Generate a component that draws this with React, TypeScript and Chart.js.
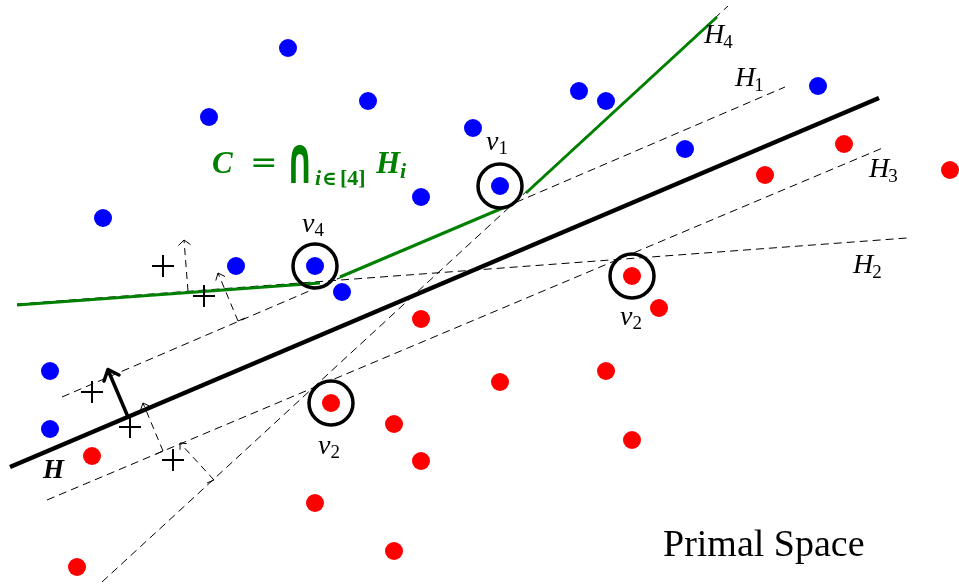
import React, { useEffect, useRef } from 'react';
import { Chart, registerables } from 'chart.js';

Chart.register(...registerables);

type P = [number, number];

// ---- data (in the figure's own coordinate system) ----
const BLUE_POINTS: P[] = [
  [288, 48], [209, 117], [368, 101], [473, 128], [579, 91], [606, 101],
  [818, 86], [685, 149], [103, 218], [421, 197], [236, 266], [315, 266],
  [342, 292], [500, 186], [50, 371], [50, 429],
];
const RED_POINTS: P[] = [
  [844, 144], [765, 175], [950, 170], [632, 276], [659, 308], [421, 319],
  [331, 403], [500, 382], [606, 371], [394, 424], [421, 461], [632, 440],
  [315, 503], [394, 551], [77, 567], [92, 456],
];
const VERTICES: P[] = [[500, 186], [315, 266], [632, 276], [331, 403]];
const LINE_H: P[] = [[10, 467], [879, 98]];
const LINE_H1: P[] = [[62, 397], [785, 87]];
const LINE_H2: P[] = [[17, 304], [907, 238]];
const LINE_H3: P[] = [[47, 500], [885, 147]];
const LINE_H4: P[] = [[102, 582], [728, 6]];
const CONE_SEGMENTS: P[][] = [
  [[17, 305], [320, 283]],
  [[340, 277], [505, 207]],
  [[526, 193], [717, 17]],
];
const NORMALS: P[][] = [
  [[188, 291], [184, 240]],
  [[238, 321], [218, 273]],
  [[163, 451], [143, 403]],
  [[214, 480], [180, 443]],
];
const NORMAL_HEADS: P[][] = [
  [[178.4, 245.5], [184, 240], [190.4, 244.5]],
  [[215.8, 280.5], [218, 273], [225, 276.5]],
  [[140.8, 409.3], [143, 403], [149.1, 405.9]],
  [[180.1, 449.7], [180, 443], [186.7, 443.6]],
];
const FOOT_TICKS: P[][] = [
  [[238, 321], [245, 318]],
  [[163, 451], [156, 454]],
  [[214, 480], [207, 483]],
];
const H_NORMAL: P[] = [[128, 417], [108, 370]];
const H_NORMAL_HEAD: P[] = [[104, 381], [108, 369.5], [119, 375]];
const PLUS_MARKS: P[] = [[163, 266], [204, 296], [92, 392], [130, 427], [173, 460]];

const HYPERPLANE_NAMES = ['H', 'H', 'H', 'H'];
const HYPERPLANE_SUBS = ['4', '1', '3', '2'];
const HYPERPLANE_ANCHORS: P[] = [[704, 43], [735, 86], [869, 177], [853, 273]];
const VERTEX_NAMES = ['v', 'v', 'v', 'v'];
const VERTEX_SUBS = ['1', '4', '2', '2'];
const VERTEX_ANCHORS: P[] = [[486, 150], [302, 232], [620, 325], [318, 454]];
const SEPARATOR_NAME = 'H';
const SEPARATOR_ANCHOR: P = [43, 478];
const CONE_FORMULA = ['C', '=', '∩', 'i', '∈', '[4]', 'H', 'i'];
const CONE_ANCHOR: P = [213, 173];
const TITLE = 'Primal Space';
const TITLE_ANCHOR: P = [663, 556];

const toXY = (pts: P[]) => pts.map(([x, y]) => ({ x, y }));

const SERIF = '"Liberation Serif", "DejaVu Serif", serif';
const GREEN = 'rgb(0,128,0)';
const DASH = [8, 5];

const lineSet = (pts: P[], color: string, width: number, dash: number[] = [], order = 5) => ({
  data: toXY(pts),
  showLine: true,
  borderColor: color,
  backgroundColor: color,
  borderWidth: width,
  borderDash: dash,
  borderCapStyle: 'butt' as const,
  borderJoinStyle: 'miter' as const,
  pointRadius: 0,
  pointHoverRadius: 0,
  fill: false,
  tension: 0,
  order,
});

const textPlugin = {
  id: 'figureText',
  afterDatasetsDraw(chart: any) {
    const { ctx } = chart;
    const sx = chart.scales.x;
    const sy = chart.scales.y;
    const px = (p: P): P => [sx.getPixelForValue(p[0]), sy.getPixelForValue(p[1])];
    ctx.save();
    ctx.textAlign = 'left';
    ctx.textBaseline = 'alphabetic';
    const run = (t: string, font: string, x: number, y: number, color = '#000') => {
      ctx.font = font;
      ctx.fillStyle = color;
      ctx.fillText(t, x, y);
      return ctx.measureText(t).width;
    };
    // hyperplane labels
    HYPERPLANE_NAMES.forEach((n, i) => {
      const [x, y] = px(HYPERPLANE_ANCHORS[i]);
      const w = run(n, `italic 28px ${SERIF}`, x, y);
      run(HYPERPLANE_SUBS[i], `19px ${SERIF}`, x + w - 1, y + 5);
    });
    // vertex labels
    VERTEX_NAMES.forEach((n, i) => {
      const [x, y] = px(VERTEX_ANCHORS[i]);
      const w = run(n, `italic 28px ${SERIF}`, x, y);
      run(VERTEX_SUBS[i], `19px ${SERIF}`, x + w, y + 4);
    });
    // separating hyperplane label
    {
      const [x, y] = px(SEPARATOR_ANCHOR);
      run(SEPARATOR_NAME, `bold italic 27px ${SERIF}`, x, y);
    }
    // cone formula
    {
      const [x, y] = px(CONE_ANCHOR);
      const big = `bold italic 31px ${SERIF}`;
      const small = `bold italic 22px ${SERIF}`;
      run(CONE_FORMULA[0], big, x - 1, y, GREEN);
      ctx.save();
      ctx.translate(x + 37, y - 1);
      ctx.scale(1.1, 1);
      run(CONE_FORMULA[1], `30px "DejaVu Sans", sans-serif`, 0, 0, GREEN);
      ctx.restore();
      ctx.save();
      ctx.translate(x + 73, y + 10);
      ctx.scale(0.85, 1.64);
      run(CONE_FORMULA[2], `bold 40px "DejaVu Sans", sans-serif`, 0, 0, GREEN);
      ctx.restore();
      run(CONE_FORMULA[3], small, x + 102, y + 12, GREEN);
      run(CONE_FORMULA[4], `bold 20px "DejaVu Serif", serif`, x + 109, y + 12, GREEN);
      run(CONE_FORMULA[5], `bold 22px ${SERIF}`, x + 127, y + 12, GREEN);
      const hw = run(CONE_FORMULA[6], big, x + 163, y, GREEN);
      run(CONE_FORMULA[7], small, x + 163 + hw, y + 5, GREEN);
    }
    // title
    {
      const [x, y] = px(TITLE_ANCHOR);
      run(TITLE, `38px ${SERIF}`, x, y);
    }
    ctx.restore();
  },
};

export default function App() {
  const ref = useRef<HTMLCanvasElement | null>(null);
  useEffect(() => {
    if (!ref.current) return;
    const datasets: any[] = [
      {
        data: toXY(VERTICES),
        pointRadius: 22,
        pointHoverRadius: 22,
        pointBackgroundColor: 'rgba(0,0,0,0)',
        pointBorderColor: '#000',
        pointBorderWidth: 3.5,
        showLine: false,
        order: 0,
      },
      {
        data: toXY(BLUE_POINTS),
        pointRadius: 9,
        pointHoverRadius: 9,
        pointBackgroundColor: '#0000ff',
        pointBorderWidth: 0,
        showLine: false,
        order: 1,
      },
      {
        data: toXY(RED_POINTS),
        pointRadius: 9,
        pointHoverRadius: 9,
        pointBackgroundColor: '#ff0000',
        pointBorderWidth: 0,
        showLine: false,
        order: 1,
      },
      {
        data: toXY(PLUS_MARKS),
        pointStyle: 'cross',
        pointRadius: 11,
        pointHoverRadius: 11,
        pointBorderColor: '#000',
        pointBorderWidth: 2,
        showLine: false,
        order: 2,
      },
      lineSet(LINE_H, '#000', 4.5, [], 3),
      { ...lineSet(H_NORMAL, '#000', 3.5, [], 3), borderCapStyle: 'round' },
      { ...lineSet(H_NORMAL_HEAD, '#000', 3.5, [], 3), borderCapStyle: 'round', borderJoinStyle: 'round' },
      ...CONE_SEGMENTS.map((s) => lineSet(s, GREEN, 3, [], 4)),
      lineSet(LINE_H1, '#000', 1, DASH, 6),
      lineSet(LINE_H2, '#000', 1, DASH, 6),
      lineSet(LINE_H3, '#000', 1, DASH, 6),
      lineSet(LINE_H4, '#000', 1, DASH, 6),
      ...NORMALS.map((s) => lineSet(s, '#000', 1, [7, 5], 6)),
      ...NORMAL_HEADS.map((s) => lineSet(s, '#000', 1, [], 6)),
      ...FOOT_TICKS.map((s) => lineSet(s, '#000', 1, [], 6)),
    ];
    const chart = new Chart(ref.current, {
      type: 'scatter',
      data: { datasets },
      options: {
        animation: false,
        responsive: false,
        maintainAspectRatio: false,
        devicePixelRatio: 1,
        layout: { padding: 0, autoPadding: false },
        events: [],
        plugins: { legend: { display: false }, tooltip: { enabled: false }, title: { display: false } },
        scales: {
          x: { type: 'linear', min: 0, max: 959, display: false },
          y: { type: 'linear', min: 0, max: 584, reverse: true, display: false },
        },
      },
      plugins: [textPlugin],
    } as any);
    return () => chart.destroy();
  }, []);
  return (
    <div style={{ position: 'absolute', left: 0, top: 0, width: 959, height: 584, background: '#fff' }}>
      <canvas ref={ref} width={959} height={584} style={{ display: 'block', width: 959, height: 584 }} />
    </div>
  );
}
